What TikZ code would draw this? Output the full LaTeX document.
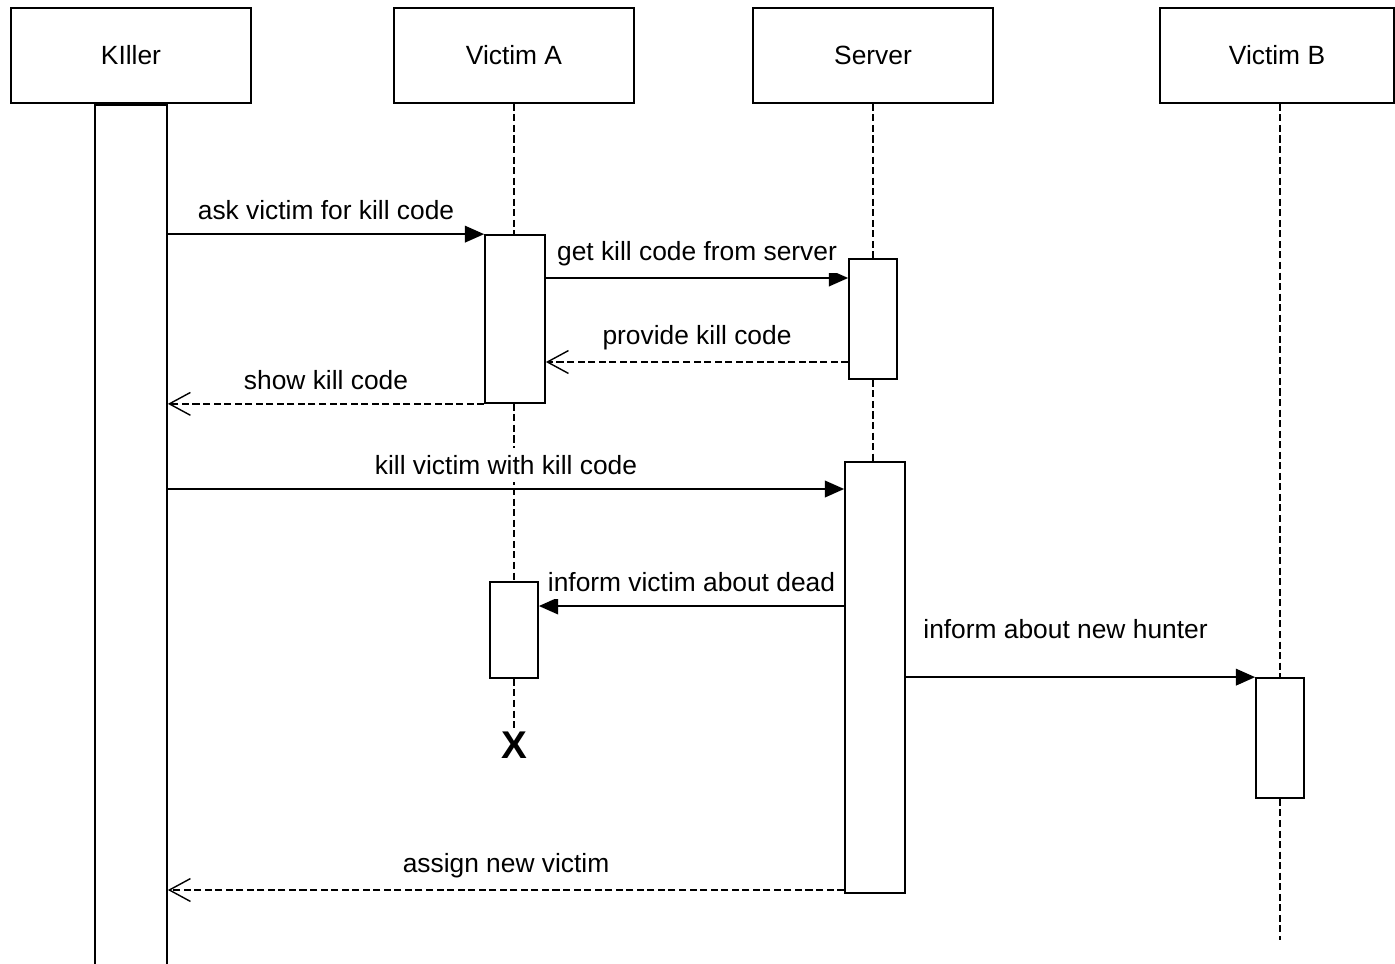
\documentclass[tikz,border=0pt]{standalone}
\usepackage{fontspec}
\setmainfont{Liberation Sans}
\usetikzlibrary{arrows.meta}

\begin{document}
\begin{tikzpicture}[x=0.02cm, y=-0.02cm,
  every node/.style={font=\fontsize{15}{17}\selectfont},
  actor/.style={draw, line width=1pt, minimum width=4.8cm, minimum height=1.9cm, inner sep=0pt},
  bar/.style={draw, fill=white, line width=1pt, inner sep=0pt},
  life/.style={line width=1pt, dash pattern=on 4pt off 2pt},
  call/.style={line width=1pt, -{Triangle[length=11pt,width=9.5pt]}},
  reply/.style={line width=1pt, dash pattern=on 4pt off 2pt, -{Straight Barb[length=12pt,width=13pt,line width=0.8pt]}},
  msg/.style={midway, yshift=0.48cm, fill=white, inner sep=4pt}]

\useasboundingbox (0,0) rectangle (1395,963);

\node[actor] (killer) at (131,55.5) {KIller};
\node[actor] (victimA) at (514,55.5) {Victim A};
\node[actor] (server) at (873,55.5) {Server};
\node[actor, minimum width=4.68cm] (victimB) at (1277,55.5) {Victim B};

\node[bar, minimum width=1.44cm, minimum height=17.54cm, anchor=north] (kbar) at (killer.south) {};
\node[bar, minimum width=1.2cm, minimum height=3.36cm] (a1) at (515,319) {};
\node[bar, minimum width=0.96cm, minimum height=1.92cm] (a2) at (514,630) {};
\node[bar, minimum width=0.96cm, minimum height=2.4cm] (s1) at (873,319) {};
\node[bar, minimum width=1.2cm, minimum height=8.62cm] (s2) at (875,677.5) {};
\node[bar, minimum width=0.96cm, minimum height=2.4cm] (b1) at (1280,738) {};
\node[font=\fontsize{22}{24}\selectfont\bfseries, inner sep=1pt] (deathX) at (514,745) {X};

\coordinate (m2) at (0,278);
\coordinate (m3) at (0,362);
\coordinate (m5) at (0,489);
\coordinate (m6) at (0,606);
\coordinate (m8) at (0,890);
\coordinate (endB) at (1280,940);

\draw[life] (victimA.south) -- (victimA.south |- a1.north);
\draw[life] (a2 |- a1.south) -- (a2.north);
\draw[life] (a2.south) -- (deathX.north);
\draw[life] (server.south) -- (s1.north);
\draw[life] (s1.south) -- (s1.south |- s2.north);
\draw[life] (victimB.south -| b1) -- (b1.north);
\draw[life] (b1.south) -- (endB);

\draw[call] (kbar.east |- a1.north) -- (a1.north west) node[msg] {ask victim for kill code};
\draw[call] (a1.east |- m2) -- (s1.west |- m2) node[msg] {get kill code from server};
\draw[reply] (s1.west |- m3) -- (a1.east |- m3) node[msg] {provide kill code};
\draw[reply] (a1.south west) -- (kbar.east |- a1.south) node[msg] {show kill code};
\draw[call] (kbar.east |- m5) -- (s2.west |- m5) node[msg] {kill victim with kill code};
\draw[call] (s2.west |- m6) -- (a2.east |- m6) node[msg] {inform victim about dead};
\draw[call] (s2.east |- b1.north) -- (b1.north west) node[msg, yshift=0.48cm, xshift=-0.3cm] {inform about new hunter};
\draw[reply] (s2.west |- m8) -- (kbar.east |- m8) node[msg] {assign new victim};

\end{tikzpicture}
\end{document}
